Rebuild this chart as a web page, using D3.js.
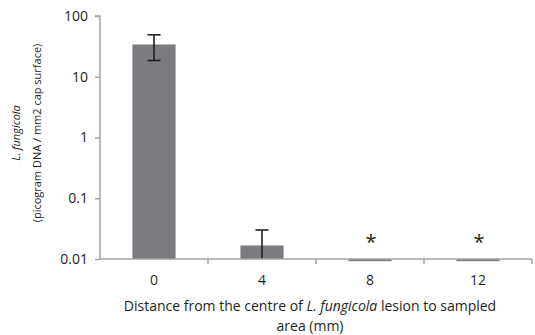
<!DOCTYPE html>
<html>
<head>
<meta charset="utf-8">
<script src="https://cdn.jsdelivr.net/npm/d3@7"></script>
<style>
  body { margin: 0; background: #fff; }
  svg { display: block; }
  text { font-family: "Open Sans", "Liberation Sans", sans-serif; fill: #231f20; }
</style>
</head>
<body>
<script>
// Distances sampled from the lesion centre (mm)
const categories = ["0", "4", "8", "12"];
// Mean L. fungicola DNA (pg / mm2 cap surface) and error bar ends
const values = [34, 0.0167, 0.0092, 0.0092];
const errUpper = [49, 0.030, null, null];
const errLower = [18.5, 0.001, null, null];
// Significance markers above each bar
const markers = ["", "", "*", "*"];
const yTicks = [0.01, 0.1, 1, 10, 100];
const yTickLabels = ["0.01", "0.1", "1", "10", "100"];

const W = 535, H = 335;
const m = { left: 100, right: 3, top: 16, bottom: 76 };
const x0 = m.left, x1 = W - m.right, yTop = m.top, yBot = H - m.bottom;

const svg = d3.select("body").append("svg").attr("width", W).attr("height", H);

const x = d3.scaleBand().domain(categories).range([x0, x1]).paddingInner(0.6).paddingOuter(0.3);
const xb = d3.scaleBand().domain(categories).range([x0, x1]);
const y = d3.scaleLog().domain([0.01, 100]).range([yBot, yTop]);

const axisColor = "#a3a3a3";

// Bars (log axis: bars start at the axis floor)
svg.append("g").selectAll("rect").data(values).join("rect")
  .attr("x", (d, i) => x(categories[i]))
  .attr("width", x.bandwidth())
  .attr("y", d => Math.min(y(d), yBot))
  .attr("height", d => Math.abs(yBot - y(d)))
  .attr("fill", "#7b7c7f");

// Error bars
const eg = svg.append("g").attr("stroke", "#231f20").attr("stroke-width", 1.6);
values.forEach((v, i) => {
  if (errUpper[i] == null) return;
  const cx = xb(categories[i]) + xb.bandwidth() / 2;
  const top = y(errUpper[i]);
  const bot = Math.min(y(errLower[i]), yBot);
  eg.append("line").attr("x1", cx).attr("x2", cx).attr("y1", top).attr("y2", bot);
  eg.append("line").attr("x1", cx - 6.5).attr("x2", cx + 6.5).attr("y1", top).attr("y2", top);
  if (y(errLower[i]) <= yBot)
    eg.append("line").attr("x1", cx - 6.5).attr("x2", cx + 6.5).attr("y1", bot).attr("y2", bot);
});

// Y axis
const yAxis = svg.append("g").attr("transform", `translate(${x0},0)`)
  .call(d3.axisLeft(y).tickValues(yTicks).tickFormat((d, i) => yTickLabels[i]).tickSize(5).tickPadding(7));
yAxis.select(".domain").attr("stroke", axisColor).attr("stroke-width", 1.5).attr("d", `M-5,${yTop}H0V${yBot}`);
yAxis.selectAll(".tick line").attr("stroke", axisColor).attr("stroke-width", 1.5);
yAxis.selectAll(".tick text").attr("font-size", 14).attr("fill", "#231f20")
  .attr("font-family", "'Open Sans', sans-serif");

// X axis
const xAxis = svg.append("g").attr("transform", `translate(0,${yBot})`)
  .call(d3.axisBottom(xb).tickSize(0).tickPadding(16));
xAxis.select(".domain").attr("stroke", axisColor).attr("stroke-width", 1.5).attr("d", `M${x0},0H${x1}`);
xAxis.selectAll(".tick text").attr("font-size", 14).attr("fill", "#231f20")
  .attr("font-family", "'Open Sans', sans-serif");
// Category boundary ticks
const bounds = categories.map(c => xb(c) + xb.bandwidth());
svg.append("g").selectAll("line").data(bounds).join("line")
  .attr("x1", d => d).attr("x2", d => d).attr("y1", yBot).attr("y2", yBot + 5)
  .attr("stroke", axisColor).attr("stroke-width", 1.5);

// Significance markers
svg.append("g").selectAll("text").data(markers).join("text")
  .attr("x", (d, i) => xb(categories[i]) + xb.bandwidth() / 2 + 1)
  .attr("y", yBot - 10)
  .attr("text-anchor", "middle")
  .attr("font-size", 20)
  .attr("font-family", "'DejaVu Sans', sans-serif")
  .text(d => d);

// X axis title
const xt = svg.append("text").attr("text-anchor", "middle").attr("font-size", 14);
const xl1 = xt.append("tspan").attr("x", 310).attr("y", 311);
xl1.append("tspan").text("Distance from the centre of ");
xl1.append("tspan").attr("font-style", "italic").text("L. fungicola");
xl1.append("tspan").text(" lesion to sampled");
xt.append("tspan").attr("x", 310).attr("y", 331).text("area (mm)");

// Y axis title
const yt = svg.append("text").attr("text-anchor", "middle").attr("font-size", 11)
  .attr("transform", "translate(0,133) rotate(-90)");
yt.append("tspan").attr("x", 0).attr("y", 20).attr("font-style", "italic").text("L. fungicola");
yt.append("tspan").attr("x", 0).attr("y", 41).text("(picogram DNA / mm2 cap surface)");
</script>
</body>
</html>
